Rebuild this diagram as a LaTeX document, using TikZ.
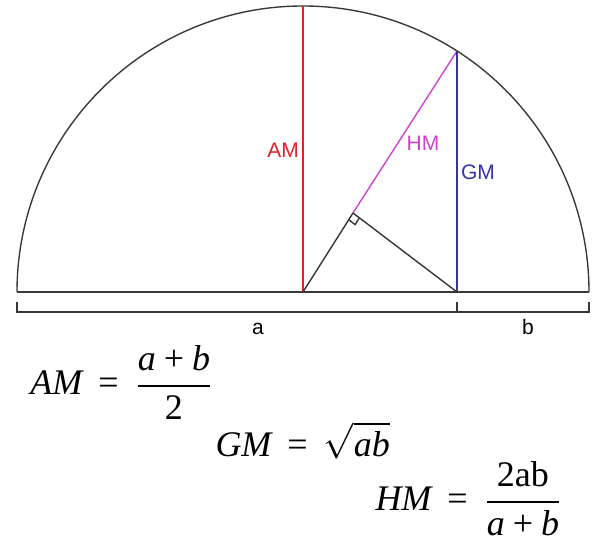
\documentclass[tikz,border=0pt]{standalone}
\usepackage{amsmath}
\usepackage{fontspec}
\setmainfont{Liberation Serif}
\setsansfont{Liberation Sans}
\usepackage{tikz}
\usetikzlibrary{calc}

\definecolor{amred}{RGB}{226,32,38}
\definecolor{hmpink}{RGB}{208,64,208}
\definecolor{gmblue}{RGB}{52,52,168}

\newcommand{\eqs}{\mathrel{\,\textrm{=}\,}}
\newcommand{\pls}{\mathbin{\textrm{+}}}

\begin{document}
\begin{tikzpicture}[x=0.4pt,y=0.4pt,
	line/.style={draw=black!78,line width=0.55pt},
	seg/.style={line width=0.55pt},
	lbl/.style={font=\sffamily\fontsize{8.4}{10}\selectfont,inner sep=0pt},
	formula/.style={font=\fontsize{14.4}{17}\selectfont,inner sep=0pt,anchor=base west}]

	\useasboundingbox (0,0) rectangle (607,546);

	\def\rad{286}

	\coordinate (o) at (303,254);
	\coordinate (l) at (17,254);
	\coordinate (r) at (589,254);
	\coordinate (t) at (303,540);
	\coordinate (q) at (457,254);
	\coordinate (p) at (457,495);
	\coordinate (f) at (353,333);

	% half circle and diameter
	\draw[line] (r) arc[start angle=0,end angle=180,radius=\rad];
	\draw[line] (l) -- (r);

	% the three means
	\draw[seg,amred] (o) -- (t);
	\draw[seg,hmpink] (p) -- (f);
	\draw[seg,gmblue] (q) -- (p);
	\draw[seg,black!80] (o) -- (f);
	\draw[seg,black!80] (f) -- (q);

	% right angle mark
	\coordinate (f1) at ($(f)!3.2pt!(o)$);
	\coordinate (f2) at ($(f)!3.2pt!(q)$);
	\draw[seg,black!80] (f1) -- ($(f1)+(f2)-(f)$) -- (f2);

	\node[lbl,text=amred] (am) at (283,396) {AM};
	\node[lbl,text=hmpink] (hm) at (423,403) {HM};
	\node[lbl,text=gmblue] (gm) at (478,374) {GM};

	% brackets for a and b
	\coordinate (bl) at (17,234);
	\coordinate (bm) at (457,234);
	\coordinate (br) at (589,234);
	\coordinate (bl') at (17,244);
	\coordinate (bm') at (457,244);
	\coordinate (br') at (589,244);
	\draw[line] (bl') -- (bl) -- (br) -- (br');
	\draw[line] (bm) -- (bm');

	\node[lbl,anchor=base] (a) at (258,211) {a};
	\node[lbl,anchor=base] (b) at (528,211) {b};

	% formulas
	\node[formula] (amf) at (30,151)
		{$\displaystyle \textit{AM} \eqs \frac{\textit{a}\pls\textit{b}}{\textrm{2}}$};
	\node[formula] (gmf) at (215,89)
		{$\displaystyle \textit{GM} \eqs \sqrt{\textit{ab}}$};
	\node[formula] (hmf) at (375,35)
		{$\displaystyle \textit{HM} \eqs \frac{\textrm{2ab}}{\textit{a}\pls\textit{b}}$};

\end{tikzpicture}
\end{document}
